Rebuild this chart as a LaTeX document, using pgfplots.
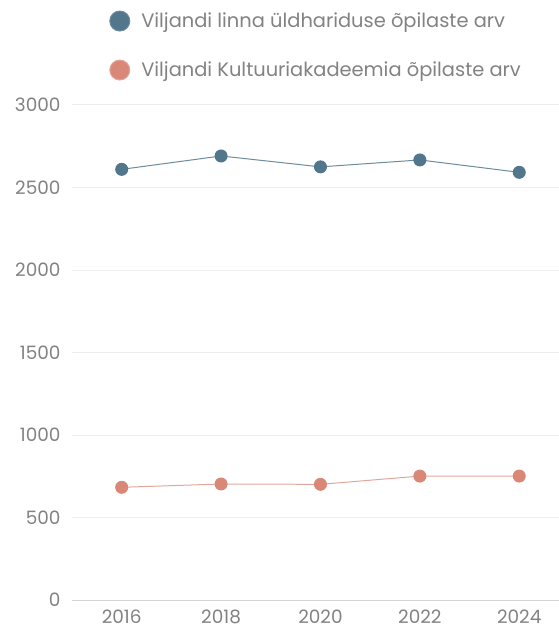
\documentclass[border=0pt]{standalone}
\usepackage{pgfplots}
\pgfplotsset{compat=1.18}
\usepackage{fontspec}
\setmainfont{Poppins}
\definecolor{cblue}{HTML}{52768C}
\definecolor{csalmon}{HTML}{D98878}
\definecolor{tickgray}{HTML}{828282}
\definecolor{gridgray}{HTML}{EEEEEE}
\definecolor{linegray}{HTML}{D4D4D4}
\begin{document}
\begin{tikzpicture}
\begin{axis}[
  scale only axis, width=487bp, height=495bp,
  xmin=2015, xmax=2024.8, ymin=0, ymax=3000,
  xtick={2016,2018,2020,2022,2024}, ytick={0,500,1000,1500,2000,2500,3000},
  /pgf/number format/1000 sep={},
  /pgf/number format/assume math mode=true,
  ticklabel style={font=\fontsize{18.5}{22}\selectfont, text=tickgray},
  axis lines*=left,
  y axis line style={draw=none},
  x axis line style={draw=linegray, line width=1pt},
  tick style={draw=none},
  ymajorgrids, grid style={draw=gridgray, line width=1pt},
  yticklabel style={xshift=-8bp},
  xticklabel style={yshift=-6bp},
  legend style={at={(axis description cs:0.07,1.045)}, anchor=south west, draw=none, fill=none,
    font=\fontsize{19.5}{23}\selectfont, text=tickgray, row sep=28bp},
  legend cell align=left,
  legend image code/.code={\fill (10bp,0) circle (10bp); \path (29bp,0);},
]
\addplot[color=cblue, draw=cblue!85, line width=1pt, mark=*, mark size=6bp, mark options={fill=cblue, draw=cblue}] coordinates {
  (2016,2610) (2018,2691) (2020,2625) (2022,2667) (2024,2592)};
\addlegendentry{Viljandi linna üldhariduse õpilaste arv}
\addplot[color=csalmon, draw=csalmon!75, line width=1pt, mark=*, mark size=6bp, mark options={fill=csalmon, draw=csalmon}] coordinates {
  (2016,683) (2018,703) (2020,701) (2022,751) (2024,751)};
\addlegendentry{Viljandi Kultuuriakadeemia õpilaste arv}
\end{axis}
\pgfresetboundingbox
\path ([shift={(-72bp,-30bp)}]current axis.south west) rectangle ([shift={(0bp,105bp)}]current axis.north east);
\end{tikzpicture}
\end{document}
